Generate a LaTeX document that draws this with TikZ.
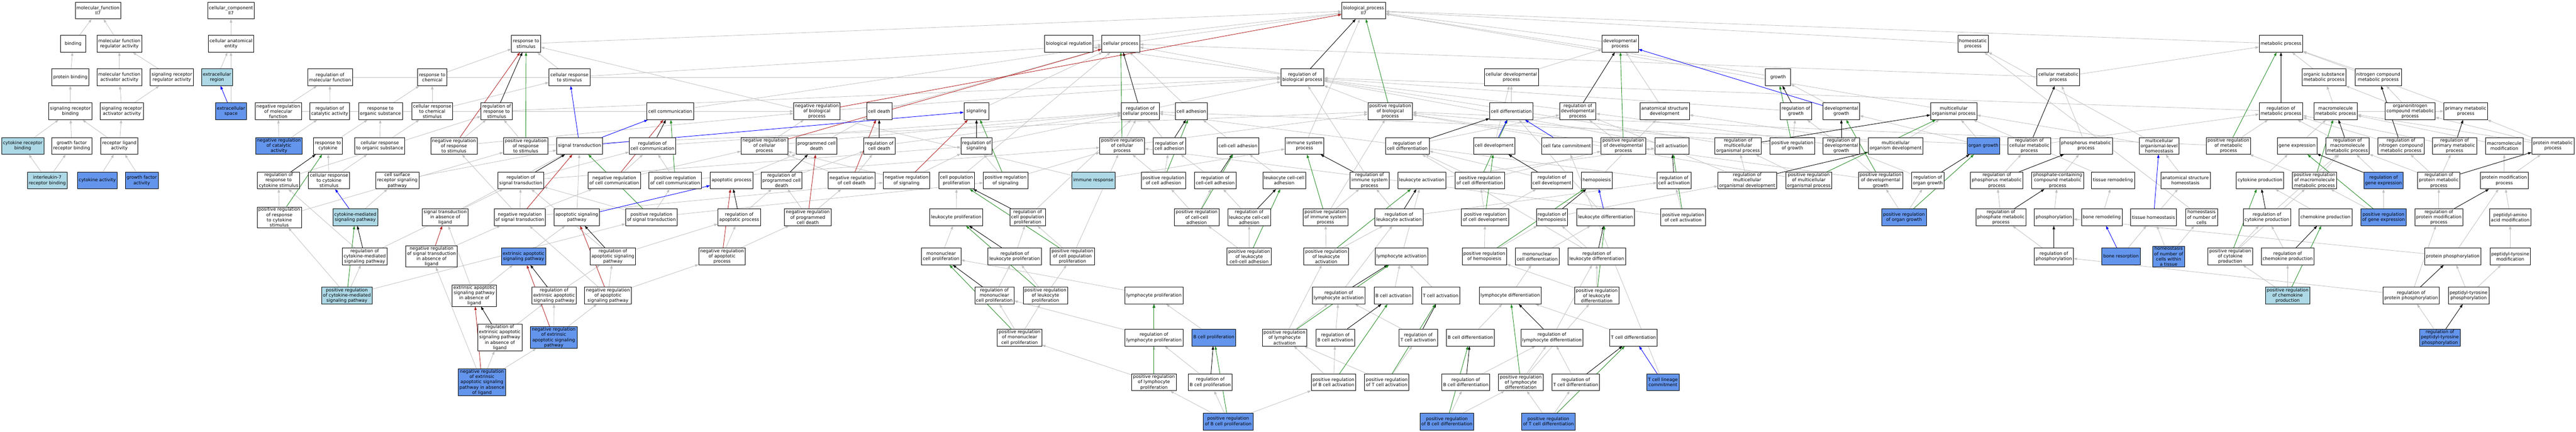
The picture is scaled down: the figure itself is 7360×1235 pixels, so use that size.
\documentclass[tikz,border=0pt]{standalone}
\usepackage{fontspec}
\setmainfont{DejaVu Sans}
\usepackage{tikz}
\usetikzlibrary{arrows.meta, backgrounds}
\definecolor{LightTerm}{HTML}{ADD8E6}
\definecolor{BlueTerm}{HTML}{6495ED}
\definecolor{IsaGray}{HTML}{C0C0C0}
\definecolor{NegRed}{HTML}{B22222}
\definecolor{PosGreen}{HTML}{228B22}
\definecolor{PartBlue}{HTML}{0000FF}
\tikzset{
  % Box styles
  term/.style={rectangle, draw=black, line width=1.1pt, fill=white, minimum width=72pt, minimum height=48pt, inner xsep=4pt, inner ysep=2pt, font=\fontsize{12.8}{15}\selectfont, align=center},
  termlb/.style={term, fill=LightTerm},
  termb/.style={term, fill=BlueTerm},
  % Arrow styles
  isa/.style={-{Triangle[length=10pt,width=7pt]}, line width=1.2pt, IsaGray},
  regarrow/.style={-{Triangle[length=10pt,width=7pt]}, line width=1.3pt, black},
  posarrow/.style={-{Triangle[length=10pt,width=7pt]}, line width=1.3pt, PosGreen},
  negarrow/.style={-{Triangle[length=10pt,width=7pt]}, line width=1.3pt, NegRed},
  partarrow/.style={-{Triangle[length=10pt,width=7pt]}, line width=1.3pt, PartBlue}
}
\begin{document}
\begin{tikzpicture}[x=1pt, y=-1pt]
  \useasboundingbox (0,0) rectangle (7360,1235);

  % Molecular function
  \node[term] (mf) at (280,30) {molecular\_function\\Il7};
  \node[term] (bind) at (209,125) {binding};
  \node[term] (mfreg) at (341,125) {molecular function\\regulator activity};
  \node[term] (pbind) at (201,221) {protein binding};
  \node[term] (mfact) at (341,221) {molecular function\\activator activity};
  \node[term] (srreg) at (491,221) {signaling receptor\\regulator activity};
  \node[term] (srbind) at (201,318) {signaling receptor\\binding};
  \node[term] (sract) at (348,318) {signaling receptor\\activator activity};
  \node[termlb] (crbind) at (65,417) {cytokine receptor\\binding};
  \node[term] (gfrbind) at (205,417) {growth factor\\receptor binding};
  \node[term] (rlig) at (341,417) {receptor ligand\\activity};
  \node[termlb] (il7rb) at (135,516) {interleukin-7\\receptor binding};
  \node[termb] (cytact) at (278,516) {cytokine activity};
  \node[termb] (gfact) at (405,516) {growth factor\\activity};

  % Cellular component
  \node[term] (cc) at (660,30) {cellular\_component\\Il7};
  \node[term] (cae) at (660,125) {cellular anatomical\\entity};
  \node[termlb] (ecreg) at (620,221) {extracellular\\region};
  \node[termb] (ecspace) at (660,318) {extracellular\\space};

  % Biological process, top rows
  \node[term] (bp) at (3896,30) {biological\_process\\Il7};
  \node[term] (rstim) at (1503,125) {response to\\stimulus};
  \node[term] (breg) at (3054,125) {biological regulation};
  \node[term] (cproc) at (3202,125) {cellular process};
  \node[term] (devproc) at (4629,125) {developmental\\process};
  \node[term] (homproc) at (5637,125) {homeostatic\\process};
  \node[term] (metproc) at (6517,125) {metabolic process};

  \node[term] (regmf) at (943,221) {regulation of\\molecular function};
  \node[term] (rchem) at (1235,221) {response to\\chemical};
  \node[term] (crstim) at (1627,221) {cellular response\\to stimulus};
  \node[term] (regbp) at (3721,221) {regulation of\\biological process};
  \node[term] (cdevproc) at (4318,221) {cellular developmental\\process};
  \node[term] (growth) at (5080,221) {growth};
  \node[term] (cmetproc) at (5881,221) {cellular metabolic\\process};
  \node[term] (osmp) at (6640,221) {organic substance\\metabolic process};
  \node[term] (ncmp) at (6795,221) {nitrogen compound\\metabolic process};

  % Row D
  \node[term] (nregmf) at (795,318) {negative regulation\\of molecular\\function};
  \node[term] (regcat) at (942,318) {regulation of\\catalytic activity};
  \node[term] (rorg) at (1087,318) {response to\\organic substance};
  \node[term] (crchem) at (1235,318) {cellular response\\to chemical\\stimulus};
  \node[term] (regrs) at (1419,318) {regulation of\\response to\\stimulus};
  \node[term] (ccomm) at (1915,318) {cell communication};
  \node[term] (nregbp) at (2334,318) {negative regulation\\of biological\\process};
  \node[term] (cdeath) at (2512,318) {cell death};
  \node[term] (signaling) at (2790,318) {signaling};
  \node[term] (regcp) at (3258,318) {regulation of\\cellular process};
  \node[term] (cadh) at (3404,318) {cell adhesion};
  \node[term] (pregbp) at (3972,318) {positive regulation\\of biological\\process};
  \node[term] (cdiff) at (4318,318) {cell differentiation};
  \node[term] (regdp) at (4508,318) {regulation of\\developmental\\process};
  \node[term] (asdev) at (4756,318) {anatomical structure\\development};
  \node[term] (reggrowth) at (5131,318) {regulation of\\growth};
  \node[term] (devgrowth) at (5261,318) {developmental\\growth};
  \node[term] (mcop) at (5582,318) {multicellular\\organismal process};
  \node[term] (regmp) at (6517,318) {regulation of\\metabolic process};
  \node[term] (mmp) at (6673,318) {macromolecule\\metabolic process};
  \node[term] (onmp) at (6886,318) {organonitrogen\\compound metabolic\\process};
  \node[term] (primmp) at (7045,318) {primary metabolic\\process};

  % Row E
  \node[termb] (nregcat) at (797,417) {negative regulation\\of catalytic\\activity};
  \node[term] (rcyt) at (937,417) {response to\\cytokine};
  \node[term] (crorg) at (1085,417) {cellular response\\to organic substance};
  \node[term] (nregrs) at (1297,417) {negative regulation\\of response\\to stimulus};
  \node[term] (pregrs) at (1502,417) {positive regulation\\of response\\to stimulus};
  \node[term] (sigtr) at (1656,417) {signal transduction};
  \node[term] (regcc) at (1864,417) {regulation of\\cell communication};
  \node[term] (nregcp) at (2184,417) {negative regulation\\of cellular\\process};
  \node[term] (pcd) at (2333,417) {programmed cell\\death};
  \node[term] (regcd) at (2512,417) {regulation of\\cell death};
  \node[term] (regsig) at (2790,417) {regulation of\\signaling};
  \node[term] (pregcp) at (3206,417) {positive regulation\\of cellular\\process};
  \node[term] (regcadh) at (3341,417) {regulation of\\cell adhesion};
  \node[term] (ccadh) at (3537,417) {cell-cell adhesion};
  \node[term] (imsp) at (3727,417) {immune system\\process};
  \node[term] (regcdiff) at (4021,417) {regulation of\\cell differentiation};
  \node[term] (cdev) at (4269,417) {cell development};
  \node[term] (cfc) at (4477,417) {cell fate commitment};
  \node[term] (pregdp) at (4638,417) {positive regulation\\of developmental\\process};
  \node[term] (cact) at (4777,417) {cell activation};
  \node[term] (regmop) at (4966,417) {regulation of\\multicellular\\organismal process};
  \node[term] (preggrowth) at (5121,417) {positive regulation\\of growth};
  \node[term] (regdevgrowth) at (5261,417) {regulation of\\developmental\\growth};
  \node[term] (mcodev) at (5416,417) {multicellular\\organism development};
  \node[termb] (organgrowth) at (5667,417) {organ growth};
  \node[term] (regcmp) at (5798,417) {regulation of\\cellular metabolic\\process};
  \node[term] (phmp) at (5960,417) {phosphorus metabolic\\process};
  \node[term] (mcolh) at (6169,417) {multicellular\\organismal-level\\homeostasis};
  \node[term] (pregmp) at (6367,417) {positive regulation\\of metabolic\\process};
  \node[term] (geneexp) at (6563,417) {gene expression};
  \node[term] (regmmp) at (6707,417) {regulation of\\macromolecule\\metabolic process};
  \node[term] (regncmp) at (6860,417) {regulation of\\nitrogen compound\\metabolic process};
  \node[term] (regprimmp) at (7013,417) {regulation of\\primary metabolic\\process};
  \node[term] (mmod) at (7155,417) {macromolecule\\modification};
  \node[term] (protmp) at (7294,417) {protein metabolic\\process};

  % Row F
  \node[term] (regrcs) at (796,516) {regulation of\\response to\\cytokine stimulus};
  \node[term] (crcyt) at (940,516) {cellular response\\to cytokine\\stimulus};
  \node[term] (csrsp) at (1135,516) {cell surface\\receptor signaling\\pathway};
  \node[term] (regst) at (1488,516) {regulation of\\signal transduction};
  \node[term] (nregcc) at (1755,516) {negative regulation\\of cell communication};
  \node[term] (pregcc) at (1929,516) {positive regulation\\of cell communication};
  \node[term] (apop) at (2090,516) {apoptotic process};
  \node[term] (regpcd) at (2233,516) {regulation of\\programmed cell\\death};
  \node[term] (nregcd) at (2433,516) {negative regulation\\of cell death};
  \node[term] (nregsig) at (2590,516) {negative regulation\\of signaling};
  \node[term] (cpp) at (2733,516) {cell population\\proliferation};
  \node[term] (pregsig) at (2873,516) {positive regulation\\of signaling};
  \node[termlb] (immresp) at (3124,516) {immune response};
  \node[term] (pregcadh) at (3324,516) {positive regulation\\of cell adhesion};
  \node[term] (regccadh) at (3472,516) {regulation of\\cell-cell adhesion};
  \node[term] (lccadh) at (3669,516) {leukocyte cell-cell\\adhesion};
  \node[term] (regims) at (3913,516) {regulation of\\immune system\\process};
  \node[term] (leukact) at (4062,516) {leukocyte activation};
  \node[term] (pregcdiff) at (4228,516) {positive regulation\\of cell differentiation};
  \node[term] (regcdev) at (4434,516) {regulation of\\cell development};
  \node[term] (hemo) at (4562,516) {hemopoiesis};
  \node[term] (regcact) at (4783,516) {regulation of\\cell activation};
  \node[term] (regmod) at (4992,516) {regulation of\\multicellular\\organismal development};
  \node[term] (pregmop) at (5168,516) {positive regulation\\of multicellular\\organismal process};
  \node[term] (pregdevgrowth) at (5373,516) {positive regulation\\of developmental\\growth};
  \node[term] (regorgan) at (5508,516) {regulation of\\organ growth};
  \node[term] (regphmp) at (5705,516) {regulation of\\phosphorus metabolic\\process};
  \node[term] (pcmp) at (5879,516) {phosphate-containing\\compound metabolic\\process};
  \node[term] (tissrem) at (6037,516) {tissue remodeling};
  \node[term] (ashom) at (6244,516) {anatomical structure\\homeostasis};
  \node[term] (cytprod) at (6457,516) {cytokine production};
  \node[term] (pregmmp) at (6613,516) {positive regulation\\of macromolecule\\metabolic process};
  \node[termb] (regge) at (6810,516) {regulation of\\gene expression};
  \node[term] (regprotmp) at (6968,516) {regulation of\\protein metabolic\\process};
  \node[term] (protmod) at (7155,516) {protein modification\\process};

  % Row G
  \node[term] (pregrcs) at (798,621) {positive regulation\\of response\\to cytokine\\stimulus};
  \node[termlb] (cmsp) at (1015,621) {cytokine-mediated\\signaling pathway};
  \node[term] (stal) at (1272,621) {signal transduction\\in absence of\\ligand};
  \node[term] (nregst) at (1485,621) {negative regulation\\of signal transduction};
  \node[term] (asp) at (1648,621) {apoptotic signaling\\pathway};
  \node[term] (pregst) at (1861,621) {positive regulation\\of signal transduction};
  \node[term] (regap) at (2112,621) {regulation of\\apoptotic process};
  \node[term] (nregpcd) at (2308,621) {negative regulation\\of programmed\\cell death};
  \node[term] (leukprolif) at (2732,621) {leukocyte proliferation};
  \node[term] (regcpp) at (2936,621) {regulation of\\cell population\\proliferation};
  \node[term] (pregccadh) at (3419,621) {positive regulation\\of cell-cell\\adhesion};
  \node[term] (reglccadh) at (3569,621) {regulation of\\leukocyte cell-cell\\adhesion};
  \node[term] (pregims) at (3787,621) {positive regulation\\of immune system\\process};
  \node[term] (regleukact) at (3997,621) {regulation of\\leukocyte activation};
  \node[term] (pregcdev) at (4243,621) {positive regulation\\of cell development};
  \node[term] (reghemo) at (4434,621) {regulation of\\hemopoiesis};
  \node[term] (leukdiff) at (4587,621) {leukocyte differentiation};
  \node[term] (pregcact) at (4809,621) {positive regulation\\of cell activation};
  \node[termb] (pregorgan) at (5440,621) {positive regulation\\of organ growth};
  \node[term] (regphosmp) at (5717,621) {regulation of\\phosphate metabolic\\process};
  \node[term] (phos) at (5868,621) {phosphorylation};
  \node[term] (boneremod) at (6005,621) {bone remodeling};
  \node[term] (tisshom) at (6153,621) {tissue homeostasis};
  \node[term] (homnc) at (6290,621) {homeostasis\\of number of\\cells};
  \node[term] (regcytprod) at (6477,621) {regulation of\\cytokine production};
  \node[term] (chemprod) at (6644,621) {chemokine production};
  \node[termb] (pregge) at (6810,621) {positive regulation\\of gene expression};
  \node[term] (regpmod) at (6968,621) {regulation of\\protein modification\\process};
  \node[term] (pamod) at (7172,621) {peptidyl-amino\\acid modification};

  % Row H
  \node[term] (regcmsp) at (1042,733) {regulation of\\cytokine-mediated\\signaling pathway};
  \node[term] (nregstal) at (1233,733) {negative regulation\\of signal transduction\\in absence of\\ligand};
  \node[termb] (easp) at (1496,733) {extrinsic apoptotic\\signaling pathway};
  \node[term] (regasp) at (1751,733) {regulation of\\apoptotic signaling\\pathway};
  \node[term] (nregap) at (2063,733) {negative regulation\\of apoptotic\\process};
  \node[term] (mncprolif) at (2689,733) {mononuclear\\cell proliferation};
  \node[term] (regleukprolif) at (2899,733) {regulation of\\leukocyte proliferation};
  \node[term] (pregcpp) at (3064,733) {positive regulation\\of cell population\\proliferation};
  \node[term] (preglccadh) at (3569,733) {positive regulation\\of leukocyte\\cell-cell adhesion};
  \node[term] (pregleukact) at (3789,733) {positive regulation\\of leukocyte\\activation};
  \node[term] (lymact) at (4004,733) {lymphocyte activation};
  \node[term] (preghemo) at (4241,733) {positive regulation\\of hemopoiesis};
  \node[term] (mncdiff) at (4392,733) {mononuclear\\cell differentiation};
  \node[term] (regleukdiff) at (4562,733) {regulation of\\leukocyte differentiation};
  \node[term] (regphos) at (5868,733) {regulation of\\phosphorylation};
  \node[termb] (boneres) at (6060,733) {bone resorption};
  \node[termb] (homnct) at (6196,733) {homeostasis\\of number of\\cells within\\a tissue};
  \node[term] (pregcytprod) at (6372,733) {positive regulation\\of cytokine\\production};
  \node[term] (regchemprod) at (6536,733) {regulation of\\chemokine production};
  \node[term] (protphos) at (7008,733) {protein phosphorylation};
  \node[term] (ptymod) at (7172,733) {peptidyl-tyrosine\\modification};

  % Row I
  \node[termlb] (pregcmsp) at (991,845) {positive regulation\\of cytokine-mediated\\signaling pathway};
  \node[term] (easpal) at (1355,845) {extrinsic apoptotic\\signaling pathway\\in absence of\\ligand};
  \node[term] (regeasp) at (1583,845) {regulation of\\extrinsic apoptotic\\signaling pathway};
  \node[term] (nregasp) at (1737,845) {negative regulation\\of apoptotic\\signaling pathway};
  \node[term] (regmncprolif) at (2841,845) {regulation of\\mononuclear\\cell proliferation};
  \node[term] (pregleukprolif) at (2987,845) {positive regulation\\of leukocyte\\proliferation};
  \node[term] (lymprolif) at (3297,845) {lymphocyte proliferation};
  \node[term] (reglymact) at (3825,845) {regulation of\\lymphocyte activation};
  \node[term] (bcact) at (3981,845) {B cell activation};
  \node[term] (tcact) at (4116,845) {T cell activation};
  \node[term] (lymdiff) at (4315,845) {lymphocyte differentiation};
  \node[term] (pregleukdiff) at (4562,845) {positive regulation\\of leukocyte\\differentiation};
  \node[termlb] (pregchemprod) at (6536,845) {positive regulation\\of chemokine\\production};
  \node[term] (regprotphos) at (6889,845) {regulation of\\protein phosphorylation};
  \node[term] (ptyphos) at (7053,845) {peptidyl-tyrosine\\phosphorylation};

  % Row J
  \node[term] (regeaspal) at (1428,965) {regulation of\\extrinsic apoptotic\\signaling pathway\\in absence of\\ligand};
  \node[termb] (nregeasp) at (1582,965) {negative regulation\\of extrinsic\\apoptotic signaling\\pathway};
  \node[term] (pregmncprolif) at (2913,965) {positive regulation\\of mononuclear\\cell proliferation};
  \node[term] (reglymprolif) at (3297,965) {regulation of\\lymphocyte proliferation};
  \node[termb] (bcprolif) at (3468,965) {B cell proliferation};
  \node[term] (preglymact) at (3670,965) {positive regulation\\of lymphocyte\\activation};
  \node[term] (regbcact) at (3815,965) {regulation of\\B cell activation};
  \node[term] (regtcact) at (4052,965) {regulation of\\T cell activation};
  \node[term] (bcdiff) at (4201,965) {B cell differentiation};
  \node[term] (reglymdiff) at (4434,965) {regulation of\\lymphocyte differentiation};
  \node[term] (tcdiff) at (4667,965) {T cell differentiation};
  \node[termb] (regptyphos) at (6971,965) {regulation of\\peptidyl-tyrosine\\phosphorylation};

  % Row K
  \node[termb] (nregeaspal) at (1377,1093) {negative regulation\\of extrinsic\\apoptotic signaling\\pathway in absence\\of ligand};
  \node[term] (preglymprolif) at (3297,1093) {positive regulation\\of lymphocyte\\proliferation};
  \node[term] (regbcprolif) at (3458,1093) {regulation of\\B cell proliferation};
  \node[term] (pregbcact) at (3810,1093) {positive regulation\\of B cell activation};
  \node[term] (pregtcact) at (3962,1093) {positive regulation\\of T cell activation};
  \node[term] (regbcdiff) at (4188,1093) {regulation of\\B cell differentiation};
  \node[term] (preglymdiff) at (4345,1093) {positive regulation\\of lymphocyte\\differentiation};
  \node[term] (regtcdiff) at (4502,1093) {regulation of\\T cell differentiation};
  \node[termb] (tcelllc) at (4751,1093) {T cell lineage\\commitment};

  % Row L
  \node[termb] (pregbcprolif) at (3509,1205) {positive regulation\\of B cell proliferation};
  \node[termb] (pregbcdiff) at (4134,1205) {positive regulation\\of B cell differentiation};
  \node[termb] (pregtcdiff) at (4424,1205) {positive regulation\\of T cell differentiation};

  \begin{scope}[on background layer]
    % is_a
    \foreach \a/\b in {bind/mf, mfreg/mf, pbind/bind, mfact/mfreg, srreg/mfreg, srbind/pbind, sract/mfact, sract/srreg, crbind/srbind, gfrbind/srbind, rlig/srbind, rlig/sract, il7rb/crbind, il7rb/gfrbind, cytact/rlig, gfact/rlig, cae/cc, ecreg/cae, ecspace/cae,
      rstim/bp, breg/bp, cproc/bp, devproc/bp, homproc/bp, metproc/bp, growth/bp, imsp/bp, mcop/bp, regbp/breg,
      regmf/regbp, nregmf/regmf, nregmf/nregbp, regcat/regmf, nregcat/nregmf, nregcat/regcat,
      rchem/rstim, rorg/rchem, crchem/rchem, crchem/crstim, rcyt/rorg, crorg/rorg, crorg/crchem, crstim/rstim, crstim/cproc,
      crcyt/rcyt, crcyt/crorg, regrcs/regrs, pregrcs/regrcs, pregrcs/pregrs,
      cmsp/csrsp, regcmsp/regrcs, regcmsp/regst, pregcmsp/pregrcs, pregcmsp/regcmsp, pregcmsp/pregst,
      csrsp/sigtr, stal/sigtr, nregstal/nregst,
      regrs/regbp, nregrs/regrs, nregrs/nregbp, pregrs/regrs, pregrs/pregbp,
      regst/regcc, regst/regsig, nregcc/regcc, nregcc/nregcp, nregst/regst, nregst/nregcc, nregst/nregsig, nregst/nregrs,
      asp/sigtr, pregst/regst, pregst/pregcc, pregst/pregsig, easp/asp, regasp/regap, regasp/regst, nregasp/regasp, nregasp/nregap, nregasp/nregst,
      easpal/easp, easpal/stal, regeasp/regasp, regeaspal/regeasp, nregeasp/regeasp, nregeasp/nregasp, nregeaspal/regeaspal, nregeaspal/nregeasp, nregeaspal/nregstal,
      ccomm/cproc, regcc/regcp, pregcc/regcc, pregcc/pregcp, nregbp/regbp, nregcp/nregbp, nregcp/regcp, pcd/cdeath, apop/pcd, regpcd/regcd, nregpcd/nregcd, nregpcd/regpcd, nregcd/regcd, nregcd/nregcp, regcd/regcp, cdeath/cproc, regap/regpcd, nregap/regap, nregap/nregpcd,
      signaling/cproc, regsig/regcp, nregsig/regsig, nregsig/nregcp, pregsig/regsig, pregsig/pregcp, cpp/cproc, leukprolif/cpp, regcpp/regcp, pregcpp/regcpp, pregcpp/pregcp, mncprolif/leukprolif, regleukprolif/regcpp, pregleukprolif/regleukprolif, pregleukprolif/pregcpp, regmncprolif/regleukprolif, pregmncprolif/regmncprolif, pregmncprolif/pregleukprolif, lymprolif/mncprolif, reglymprolif/regmncprolif, preglymprolif/pregmncprolif, preglymprolif/reglymprolif,
      immresp/imsp, immresp/rstim, pregcp/regcp, pregcp/pregbp, regcp/regbp,
      cadh/cproc, regcadh/regcp, pregcadh/regcadh, pregcadh/pregcp, ccadh/cadh, regccadh/regcadh, pregccadh/regccadh, pregccadh/pregcadh, lccadh/ccadh, reglccadh/regccadh, preglccadh/reglccadh, preglccadh/pregccadh, regims/regbp, pregims/regims, pregims/pregbp, pregleukact/pregims, pregleukact/regleukact,
      bcprolif/lymprolif, regbcprolif/reglymprolif, pregbcprolif/regbcprolif, pregbcprolif/preglymprolif, pregbcprolif/pregbcact, reglymact/regleukact, preglymact/reglymact, preglymact/pregleukact, regbcact/reglymact, pregbcact/regbcact, pregbcact/preglymact, pregtcact/regtcact, pregtcact/preglymact,
      cdevproc/devproc, cdiff/cdevproc, regdp/regbp, pregbp/regbp, regcdiff/regdp, cdev/cdevproc, pregdp/regdp, pregdp/pregbp, leukact/cact, pregcdiff/regcdiff, pregcdiff/pregdp, regcdev/regcdiff, hemo/asdev, regleukact/regcact, regleukact/regims, pregcdev/regcdev, pregcdev/pregcdiff, reghemo/regmod, leukdiff/cdiff, lymact/leukact, preghemo/reghemo, preghemo/pregcdev,
      mncdiff/leukdiff, regleukdiff/reghemo, regleukdiff/regcdiff, bcact/lymact, tcact/lymact, lymdiff/mncdiff, pregleukdiff/regleukdiff, pregleukdiff/preghemo, regtcact/reglymact, bcdiff/lymdiff, reglymdiff/regleukdiff, tcdiff/lymdiff, regbcdiff/reglymdiff, preglymdiff/reglymdiff, preglymdiff/pregleukdiff, regtcdiff/reglymdiff, pregbcdiff/regbcdiff, pregbcdiff/preglymdiff, pregtcdiff/regtcdiff, pregtcdiff/preglymdiff, tcelllc/cfc,
      devgrowth/growth, reggrowth/regbp, preggrowth/reggrowth, preggrowth/pregbp, asdev/devproc, cact/cproc, regmop/regbp, regcact/regcp, regmod/regmop, regmod/regdp, pregmop/regmop, pregmop/pregbp, pregcact/regcact, pregcact/pregcp, regdevgrowth/reggrowth, regdevgrowth/regdp, mcodev/asdev, mcodev/mcop,
      cmetproc/metproc, cmetproc/cproc, organgrowth/devgrowth, organgrowth/mcop, regcmp/regmp, regcmp/regcp, phmp/cmetproc, pregdevgrowth/regdevgrowth, pregdevgrowth/pregdp, regorgan/regdevgrowth, pregorgan/regorgan, pregorgan/pregdevgrowth, regphmp/regcmp, pcmp/phmp, regphosmp/regphmp, phos/pcmp, regphos/regphosmp, tissrem/mcop, boneremod/tissrem, boneres/tisshom,
      regmp/regbp, pregmp/regmp, pregmp/pregbp, mcolh/homproc, mcolh/mcop, ashom/mcolh, tisshom/ashom, homnc/homproc, homnct/tisshom, homnct/homnc, geneexp/mmp, cytprod/geneexp, pregmmp/regmmp, pregmmp/pregmp, regcytprod/regmmp, pregcytprod/regcytprod, pregcytprod/pregmmp, chemprod/cytprod, regchemprod/regcytprod, pregchemprod/regchemprod, pregchemprod/pregcytprod,
      osmp/metproc, ncmp/metproc, primmp/metproc, mmp/osmp, mmp/primmp, onmp/osmp, onmp/ncmp, regmmp/regmp, regncmp/regmp, regprimmp/regmp, mmod/mmp, protmp/primmp, protmp/onmp, protmp/mmp, regge/regmmp, pregge/regge, pregge/pregmmp, regprotmp/regmmp, regprotmp/regncmp, regprotmp/regprimmp, protmod/mmod, protmod/protmp, regpmod/regprotmp, pamod/protmod, protphos/protmod, protphos/phos, ptymod/pamod, regprotphos/regpmod, regprotphos/regphos, ptyphos/protphos, ptyphos/ptymod, regptyphos/regprotphos}
      \draw[isa] (\a) -- (\b);

    % regulates
    \foreach \a/\b in {regbp/bp, regrs/rstim, regrcs/rcyt, regcmsp/cmsp, regst/sigtr, regcc/ccomm, regasp/asp, regeasp/easp, regeaspal/easpal, regpcd/pcd, regcd/cdeath, regap/apop, regsig/signaling, regcp/cproc, regcpp/cpp, regleukprolif/leukprolif, regmncprolif/mncprolif, reglymprolif/lymprolif, regcadh/cadh, regccadh/ccadh, reglccadh/lccadh, regims/imsp, regbcprolif/bcprolif, reglymact/lymact, regbcact/bcact, regdp/devproc, regcdiff/cdiff, regcdev/cdev, regleukact/leukact, reghemo/hemo, regleukdiff/leukdiff, regtcact/tcact, reglymdiff/lymdiff, regbcdiff/bcdiff, regtcdiff/tcdiff, reggrowth/growth, regmop/mcop, regcact/cact, regmod/mcodev, regdevgrowth/devgrowth, regorgan/organgrowth, regcmp/cmetproc, regphmp/phmp, regphosmp/pcmp, regphos/phos, regmp/metproc, regcytprod/cytprod, regchemprod/chemprod, regmmp/mmp, regncmp/ncmp, regprimmp/primmp, regge/geneexp, regprotmp/protmp, regpmod/protmod, regprotphos/protphos, regptyphos/ptyphos}
      \draw[regarrow] (\a) -- (\b);

    % positively regulates
    \foreach \a/\b in {pregbp/bp, pregrs/rstim, pregrcs/rcyt, pregcmsp/cmsp, pregst/sigtr, pregcc/ccomm, pregsig/signaling, pregcp/cproc, pregcpp/cpp, pregleukprolif/leukprolif, pregmncprolif/mncprolif, preglymprolif/lymprolif, pregcadh/cadh, pregccadh/ccadh, preglccadh/lccadh, pregims/imsp, pregbcprolif/bcprolif, preglymact/lymact, pregbcact/bcact, pregtcact/tcact, pregdp/devproc, pregcdiff/cdiff, pregcdev/cdev, pregleukact/leukact, preghemo/hemo, pregleukdiff/leukdiff, preglymdiff/lymdiff, pregbcdiff/bcdiff, pregtcdiff/tcdiff, preggrowth/growth, pregmop/mcop, pregcact/cact, pregdevgrowth/devgrowth, pregorgan/organgrowth, pregmp/metproc, pregcytprod/cytprod, pregchemprod/chemprod, pregmmp/mmp, pregge/geneexp}
      \draw[posarrow] (\a) -- (\b);

    % negatively regulates
    \foreach \a/\b in {nregbp/bp, nregrs/rstim, nregcc/ccomm, nregst/sigtr, nregcp/cproc, nregcd/cdeath, nregpcd/pcd, nregap/apop, nregasp/asp, nregeasp/easp, nregeaspal/easpal, nregstal/stal, nregsig/signaling}
      \draw[negarrow] (\a) -- (\b);

    % part_of
    \foreach \a/\b in {ecspace/ecreg, cmsp/crcyt, sigtr/crstim, sigtr/ccomm, sigtr/signaling, asp/apop, cdev/cdiff, cfc/cdiff, leukdiff/hemo, tcelllc/tcdiff, devgrowth/devproc, tisshom/mcolh, boneres/boneremod}
      \draw[partarrow] (\a) -- (\b);
  \end{scope}
\end{tikzpicture}
\end{document}
